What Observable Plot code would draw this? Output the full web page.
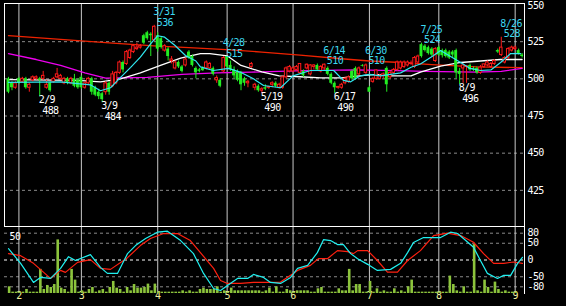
<!DOCTYPE html>
<html><head><meta charset="utf-8">
<script src="https://cdn.jsdelivr.net/npm/d3@7"></script>
<script src="https://cdn.jsdelivr.net/npm/@observablehq/plot@0.6"></script>
<style>
html,body{margin:0;padding:0;background:#000;}
#chart{position:relative;width:566px;height:306px;background:#000;overflow:hidden;}
#chart svg{position:absolute;left:0;}
#chart svg text{letter-spacing:-0.6px;}
</style></head><body><div id="chart"></div>
<script>
// ---- data (2022 trading days) ----
const dates = ["1/27","1/28","1/31",
"2/1","2/2","2/3","2/4","2/7","2/8","2/9","2/10","2/14","2/15","2/16","2/17","2/18","2/21","2/22","2/24","2/25","2/28",
"3/1","3/2","3/3","3/4","3/7","3/8","3/9","3/10","3/11","3/14","3/15","3/16","3/17","3/18","3/22","3/23","3/24","3/25","3/28","3/29","3/30","3/31",
"4/1","4/4","4/5","4/6","4/7","4/8","4/11","4/12","4/13","4/14","4/15","4/18","4/19","4/20","4/21","4/22","4/25","4/26","4/27","4/28",
"5/2","5/6","5/9","5/10","5/11","5/12","5/13","5/16","5/17","5/18","5/19","5/20","5/23","5/24","5/25","5/26","5/27","5/30","5/31",
"6/1","6/2","6/3","6/6","6/7","6/8","6/9","6/10","6/13","6/14","6/15","6/16","6/17","6/20","6/21","6/22","6/23","6/24","6/27","6/28","6/29","6/30",
"7/1","7/4","7/5","7/6","7/7","7/8","7/11","7/12","7/13","7/14","7/15","7/19","7/20","7/21","7/22","7/25","7/26","7/27","7/28","7/29",
"8/1","8/2","8/3","8/4","8/5","8/8","8/9","8/10","8/12","8/15","8/16","8/17","8/18","8/19","8/22","8/23","8/24","8/25","8/26","8/29","8/30","8/31",
"9/1","9/2","9/5"];
const opens = [500,497,494,500,498,500,494,499,500,500,500,494,497,498,501,500,497,500,497,500,499,
501,494,497,500,494,491,490,491,497,495,497,504,511,510,514,518,520,521,529,531,530,526,
529,527,519,520,512,507,511,508,509,518,515,507,506,507,507,507,507,499,499,505,
515,509,506,505,504,500,497,508,494,495,492,494,494,496,497,494,494,501,505,
505,506,504,505,507,503,508,509,505,507,507,503,497,494,494,497,498,505,507,503,509,504,
494,498,500,500,502,507,501,504,506,507,508,509,510,508,511,523,522,521,520,512,
521,519,519,518,518,519,505,507,508,509,507,507,504,508,509,508,510,519,516,511,514,519,
520,519,516];
const highs = [501,498,498,501,501,501,497,502,502,501,505,499,498,501,507,503,501,501,501,503,500,
502,498,501,501,495,493,491,498,498,505,505,512,512,519,520,523,524,523,530,532,531,536,
531,528,523,521,515,512,512,509,514,519,516,508,507,508,512,511,508,502,500,515,
515,512,508,506,505,501,499,511,497,496,494,496,495,498,498,497,502,508,509,
508,509,510,506,510,509.5,509.5,510,509,510,508,504,498,495,497,501,502,506,508,508,509.5,510,
495,501,506,503,504,508,505,507,512,512,512,512,512,515,516,524,523,522,521,521,
522,520,520,519,519,520,507,510,509,510,508,508,509,510,512,511,513,520,528,515,521,522,
522,520,517];
const lows = [490,492,493,496,497,493,491,498,499,488,499,493,491,497,500,499,496,496,496,494,493,
493,493,496,489,488,486,484,489,489,494,496,503,504,509,513,517,519,520,523,526,515,525,
518,520,518,512,510,506,507,504,508,513,508,500,504,505,506,506,502,497,494,504,
507,505,500,498,492,495,494,507,492,491,490,492,493,494,494,493,493,500,504,
504,505,503,501,506,502,506,505,504,505,502,496,490,493,493,496,497,499,499,502,508,503,
491,497,499,499,500,491,500,503,505,506,507,508,509,507,510,514,518,516,515,511,
515,514,514,513,514,500,496,497,497,505,505,503,503,507,508,507,509,517,515,510,513,518,
519,516,514];
const closes = [491,494,497,497,500,494,496,501,501,499,502,496,492,500,503,502,500,497,500,495,494,
494,497,500,491,489,488,486,497,491,503,504,511,506,518,519,522,521,522,524,527,529,535,
520,521,522,515,513,511,508,505,513,514,509,504,505,505.5,511,510,503,500.5,495,514,
508,506,502,499,496,497,498,510,496,492,493,493,494.5,497,495,496,501,507,508,
507,508,510,502,509.5,509,509,506,508,509.5,503,497,494,494.5,496,500,501,500,500,507,508.5,509,
491,500,505.6,502,503,496,504,506,511,511,511,511,510.5,514,515,515,519,517,516,520,
516,515.6,515,514,516,504,503,509,508.5,506,506,504,507.6,509.7,511,510,512,518,521,514,520,521,
521,517,515];
const volumes = [5,1,1,1,1,3,1,1,1,18,3,6,4.5,6.7,40,4,3,1,18,10,1,
2,1,3,4.5,1,2,3,1,4.5,9,4,3,1,4.5,2,6.7,4,4,4.5,7,2,7,
1,1,1,1,1,1,1,2,1,2,1,1,3,4,3,3,3,5,1,
2,1,4,2,2,2,2,2,2,2,2,1,2,4,1,5,1,1,
3,2,1,2,2,2,2,1,1,3.5,4.5,1,1,1,1,3.5,2,2,18,2,6.7,6.7,
1,1,9,1,3.5,1,2,1,1,3.5,1,2,1,5,10,1,1,1,1,1,
1,1,1,1,1,13,6.7,2,1,5,1,1,36.5,2,1,10,4.5,1,8.5,3,1,2,
1,1,1];
const monthLabels = ["2","3","4","5","6","7","8","9"];
const priceTicks = [550,525,500,475,450,425];
const oscTicks = [80,50,0,-50,-80];
const volumeScaleLabel = "50";
const highDates = ["3/31","4/28","6/14","6/30","7/25","8/26"];
const highValues = [536,515,510,510,524,528];
const lowDates = ["2/9","3/9","5/19","6/17","8/9"];
const lowValues = [488,484,490,490,496];
// moving averages: [day index, value]
const maRed = [[0,529],[15,526.5],[30,524],[43,522],[52,521],[64,519.5],[73,518],[84,516],[96,513.5],[104,512],[113,511],[122,509.5],[135,508],[148,507.5]];
const maMagenta = [[0,517],[8,513],[15,509],[22,504],[28,500.5],[40,501],[50,503],[60,504],[70,504.5],[85,505.5],[100,506],[112,505.5],[120,505],[135,504.5],[142,505],[148,507]];
const maWhite = [[0,499.5],[20,499],[26.5,498],[32.3,500],[38,504],[43.8,509],[49.6,514],[55.3,517],[58,517],[63,515.5],[67,509],[73,504.7],[78,502],[84,501.4],[90,500.7],[96,500.7],[101,502],[106,503],[110,502],[116,502],[118.7,504.5],[124.5,508.5],[130.3,511],[136,512],[141.8,513],[148,513]];
const maCyan = [[0,497.6],[15,498],[23.6,496],[26.5,492],[29.4,494],[32.3,501],[35.2,507.7],[38,514.6],[41,523.7],[43,529],[45,528],[48,522.4],[51,515.7],[54,512],[55.3,508],[59,505.6],[63.4,507],[67,504.3],[70.6,500],[73.5,495.5],[78.4,494],[82,502],[87,505.6],[93.7,505.6],[96.5,499],[98.6,498],[101.4,502],[104,503],[107.2,502],[113,504],[116,507.8],[118.7,510],[122.5,515.7],[124.5,519],[127.4,515],[130.3,511],[133,507],[136,505.6],[139,506],[141.8,511],[144.7,517],[147.6,517]];
const oscCyan = [[0,34],[3.5,-10],[7.2,-67],[9.2,-52],[12.1,-55],[15,-25],[17.3,10],[19.3,-1.5],[23.6,16],[26.5,-22],[28.5,-40],[31.4,-40],[34.3,19],[36.6,43],[39.5,64],[42.9,83],[45.8,86],[49.6,58],[53.3,19],[56.2,-40],[59.1,-85],[61.1,-91],[63.1,-76],[66,-55],[68.9,-55],[70.6,-43],[73.5,-52],[75.5,-67],[78.4,-70],[81.3,-52],[83.3,-25],[86.2,-16],[89,22],[90.8,61],[92.8,58],[94.8,46],[96.5,46],[98.6,19],[100.6,4],[103.5,-13],[106.3,-31],[110.1,-28],[113,-10],[115,22],[116.7,52],[119.6,67],[124.5,67],[127.4,83],[129.4,79],[131.1,64],[134,38],[136,-1.5],[138,-40],[140.9,-55],[142.7,-46],[144.7,-46],[146.7,-10],[148.1,8]];
const oscRed = [[0,19],[3.5,13],[7.2,-10],[12.1,-55],[15,-31],[16.4,-37],[19.9,-7],[23.6,1],[26.5,-25],[29.4,-28],[34.3,7],[38,43],[40.9,64],[44.7,79],[48.7,79],[52.4,58],[55.3,22],[59.1,-25],[61.1,-61],[63.1,-70],[66.9,-70],[70.6,-67],[76.9,-67],[78.4,-66],[83.3,-31],[87,-16],[89.3,4],[91.9,4],[94.8,28],[97.7,25],[99.4,19],[100.6,28],[103.5,28],[106.3,-1.5],[109.2,-36],[112.1,-36],[115,-1.5],[118.7,28],[122.5,73],[126.5,80],[130.3,73],[134,53],[136.9,19],[139.8,-10],[142.7,-10],[145.5,-6],[148.1,-10]];

// ---- build ----
const FONT = "'DejaVu Sans Mono', monospace";
const RED = "#ff1a1a", GREEN = "#22ee22", CYAN = "#3cd8f0";
const candles = dates.map((d, i) => ({i, d, o: opens[i], h: highs[i], l: lows[i], c: closes[i], v: volumes[i]}));
const up = candles.filter(d => d.c >= d.o), down = candles.filter(d => d.c < d.o);
const idx = d => dates.indexOf(d);
const monthStarts = monthLabels.map(m => dates.findIndex(d => d.split("/")[0] === m));
const his = highDates.map((d, k) => ({i: idx(d), d, v: highValues[k]}));
const los = lowDates.map((d, k) => ({i: idx(d), d, v: lowValues[k]}));
const xs = {domain: [0, 148], range: [8, 521.6], axis: null};
const common = {width: 566, marginLeft: 4, marginRight: 42};
const st = bg => ({background: bg, color: "white", fontFamily: FONT, fontSize: "10px", overflow: "visible"});

const price = Plot.plot({
  ...common, height: 227, marginTop: 3, marginBottom: 0,
  style: st("black"),
  x: xs,
  y: {domain: [400, 550], range: [227, 4], axis: null},
  marks: [
    Plot.ruleY(priceTicks.slice(1), {stroke: "#8a8a8a", strokeDasharray: "3,3"}),
    Plot.ruleX(monthStarts, {stroke: "#c8c8c8"}),
    Plot.line(maRed, {x: d => d[0], y: d => d[1], stroke: "#ee2200", strokeWidth: 1.3}),
    Plot.line(maMagenta, {x: d => d[0], y: d => d[1], stroke: "#ee00ee", strokeWidth: 1.3}),
    Plot.line(maWhite, {x: d => d[0], y: d => d[1], stroke: "#ffffff", strokeWidth: 1.3}),
    Plot.ruleX(down, {x: "i", y1: "l", y2: "h", stroke: GREEN}),
    Plot.ruleX(up, {x: "i", y1: "l", y2: "h", stroke: RED}),
    Plot.rect(down, {x1: d => d.i - 0.42, x2: d => d.i + 0.42, y1: "o", y2: "c", fill: GREEN}),
    Plot.rect(up, {x1: d => d.i - 0.36, x2: d => d.i + 0.36, y1: "o", y2: d => d.c === d.o ? d.c + 0.3 : d.c, fill: "black", stroke: RED}),
    Plot.line(maCyan, {x: d => d[0], y: d => d[1], stroke: "#30e8f0", strokeWidth: 1.2}),
    Plot.text(his, {x: "i", y: "v", text: "d", dx: -1, dy: -13.5, textAnchor: "start", fill: CYAN}),
    Plot.text(his, {x: "i", y: "v", text: d => String(d.v), dx: 2.5, dy: -3, textAnchor: "start", fill: CYAN}),
    Plot.text(los, {x: "i", y: "v", text: "d", dx: -1, dy: 3.5, textAnchor: "start", fill: "white"}),
    Plot.text(los, {x: "i", y: "v", text: d => String(d.v), dx: 2.5, dy: 14, textAnchor: "start", fill: "white"}),
    Plot.text(priceTicks.slice(0, 1), {y: d => d, frameAnchor: "right", dx: 3, dy: -3, lineAnchor: "top", textAnchor: "start", fill: "white"}),
    Plot.text(priceTicks.slice(1), {y: d => d, frameAnchor: "right", dx: 3, textAnchor: "start", fill: "white"}),
    Plot.frame({stroke: "white"})
  ]
});

const bottomBase = {...common, height: 80, marginTop: 0, marginBottom: 13, x: xs};
const oscY = {domain: [-100, 100], range: [67, 0], axis: null};

const panelA = Plot.plot({
  ...bottomBase, style: st("black"), y: oscY,
  marks: [
    Plot.ruleY(oscTicks.filter(v => v !== 0), {stroke: "#8a8a8a", strokeDasharray: "3,3"}),
    Plot.ruleY([0], {stroke: "white", strokeDasharray: "3,3"}),
    Plot.ruleX(monthStarts, {stroke: "#c8c8c8"}),
    Plot.text(oscTicks, {y: d => d, frameAnchor: "right", dx: 3, textAnchor: "start", fill: "white"}),
    Plot.text(monthStarts, {x: d => d, text: (d, k) => monthLabels[k], frameAnchor: "bottom", dy: 5.5, fill: "#f0f0a0"}),
    Plot.text([volumeScaleLabel], {frameAnchor: "top-left", dx: 5, dy: 6, textAnchor: "start", fill: "white"}),
    Plot.frame({stroke: "white", anchor: "top"}),
    Plot.frame({stroke: "white", anchor: "right"})
  ]
});

const panelB = Plot.plot({
  ...bottomBase, style: st("transparent"),
  y: {domain: [0, 50], range: [67, 0], axis: null},
  marks: [
    Plot.rectY(candles, {x1: d => d.i - 0.05, x2: d => d.i + 0.7, y: "v", fill: "#8cc43c"})
  ]
});

const panelC = Plot.plot({
  ...bottomBase, style: st("transparent"), y: oscY,
  marks: [
    Plot.line(oscRed, {x: d => d[0], y: d => d[1], stroke: "#ff2010", strokeWidth: 1.2}),
    Plot.line(oscCyan, {x: d => d[0], y: d => d[1], stroke: "#20f0f0", strokeWidth: 1.2})
  ]
});

const root = document.getElementById("chart");
price.style.top = "0px";
[panelA, panelB, panelC].forEach(p => { p.style.top = "226px"; });
root.append(price, panelA, panelB, panelC);
</script></body></html>
